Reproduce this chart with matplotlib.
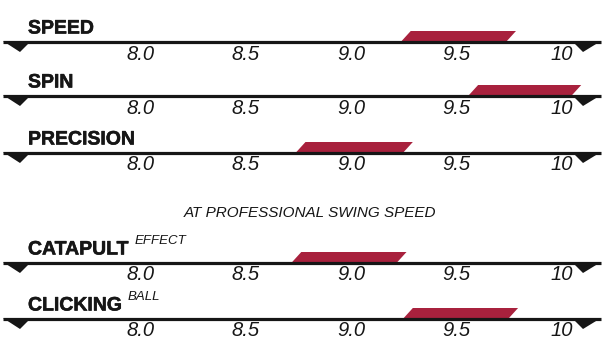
import matplotlib.pyplot as plt
import matplotlib.patheffects as pe
from matplotlib.patches import Polygon

# ratings shown on each scale
labels = ["SPEED", "SPIN", "PRECISION", "CATAPULT", "CLICKING"]
subs = ["", "", "", "EFFECT", "BALL"]
low = [9.26, 9.58, 8.76, 8.74, 9.27]
high = [9.76, 10.07, 9.27, 9.24, 9.77]
ticks = [8.0, 8.5, 9.0, 9.5, 10.0]
tick_labels = ["8.0", "8.5", "9.0", "9.5", "10"]
note = "AT PROFESSIONAL SWING SPEED"

W, H = 609, 351
X0 = 8 - 140.5 / 210.5
X1 = 8 + (W - 140.5) / 210.5
row_y = [42, 96, 153, 263, 319]
red = "#a8213d"
dark = "#161616"


def px(p):
    # pixel column -> scale value
    return X0 + p / W * (X1 - X0)


fig = plt.figure(figsize=(W / 100, H / 100), dpi=100)
ax = fig.add_axes([0, 0, 1, 1])
ax.set_xlim(X0, X1)
ax.set_ylim(H, 0)
ax.axis("off")

slant = 5 / 210.5
for i in range(len(labels)):
    y = row_y[i]
    # bar (parallelogram)
    bar = Polygon([(low[i] - slant, y), (high[i] - slant, y),
                   (high[i] + slant, y - 11), (low[i] + slant, y - 11)],
                  closed=True, facecolor=red, edgecolor="none", zorder=2)
    ax.add_patch(bar)
    # axis line with end wedges
    ax.plot([px(3), px(601)], [y, y], color=dark, lw=2.3, zorder=3,
            solid_capstyle="butt")
    ax.add_patch(Polygon([(px(3), y - 1), (px(31), y - 1), (px(20), y + 10)],
                         closed=True, facecolor=dark, edgecolor="none", zorder=3))
    ax.add_patch(Polygon([(px(572), y - 1), (px(601), y - 1), (px(583), y + 10)],
                         closed=True, facecolor=dark, edgecolor="none", zorder=3))
    # tick labels
    for t, tl in zip(ticks, tick_labels):
        ax.text(t, y + 12, tl, ha="center", va="center", fontsize=14.5,
                style="italic", family="Liberation Sans", color=dark)
    # row title
    title = ax.text(px(28), y - 8.5, labels[i], ha="left", va="baseline",
                    fontsize=14, fontweight="bold", family="Liberation Sans",
                    color=dark,
                    path_effects=[pe.withStroke(linewidth=0.4, foreground=dark)])
    if subs[i]:
        fig.canvas.draw()
        bb = title.get_window_extent()
        x_end = ax.transData.inverted().transform((bb.x1, 0))[0]
        ax.text(x_end + 6 / 210.5, y - 22, subs[i], ha="left", va="center",
                fontsize=9.5, style="italic", family="Liberation Sans",
                color=dark)

ax.text(px(310), 213, note, ha="center", va="center", fontsize=11,
        style="italic", family="Liberation Sans", color=dark)

fig.savefig("out.png", dpi=100, facecolor="white")
